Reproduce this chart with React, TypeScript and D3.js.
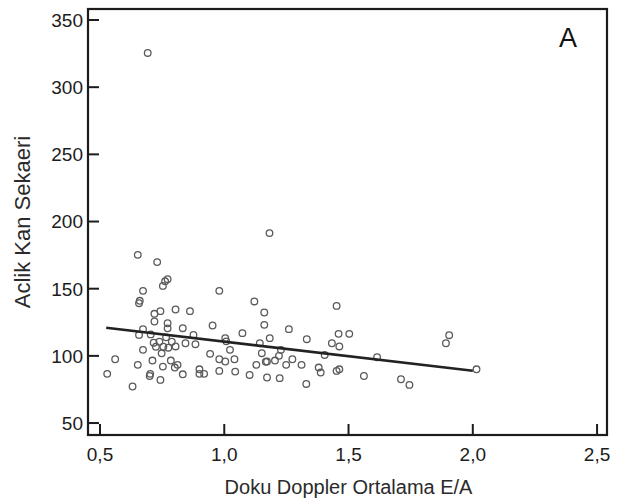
import React, { useEffect, useRef } from 'react';
import * as d3 from 'd3';

// Doku Doppler Ortalama E/A (x) vs Aclik Kan Sekaeri (y)
const eaValues = [
  0.692, 1.182, 0.652, 0.730, 0.772, 0.762, 0.753, 0.673, 0.980, 0.660,
  0.657, 1.121, 1.452, 0.804, 0.862, 0.743, 0.719, 1.161, 0.719, 0.772,
  1.161, 0.953, 0.833, 0.673, 0.772, 1.260, 1.073, 1.503, 1.460, 0.657,
  0.876, 1.905, 0.704, 1.183, 1.004, 1.332, 0.766, 1.892, 1.433, 1.143,
  0.844, 0.884, 1.463, 0.804, 0.716, 0.739, 0.725, 0.755, 0.775, 0.789,
  0.673, 1.023, 1.228, 1.151, 0.943, 1.404, 1.220, 1.615, 0.748, 0.561,
  0.711, 0.980, 1.041, 1.004, 1.274, 1.204, 0.785, 1.172, 0.652, 0.812,
  1.129, 1.249, 1.311, 0.753, 0.801, 0.900, 1.380, 1.463, 2.015, 0.980,
  1.044, 1.388, 1.452, 0.529, 0.702, 0.900, 0.919, 0.833, 1.102, 0.700,
  1.562, 1.172, 1.223, 1.711, 0.743, 1.745, 1.330, 0.631, 1.008, 1.167,
];
const glucoseValues = [
  325.5, 191.4, 175.2, 169.8, 157.1, 155.5, 152.1, 148.4, 148.4, 141.0,
  139.2, 140.5, 137.2, 134.5, 133.3, 133.3, 131.3, 132.3, 125.6, 124.3,
  123.1, 122.6, 120.6, 119.9, 120.5, 119.9, 116.9, 116.4, 116.4, 115.6,
  115.6, 115.4, 116.0, 113.2, 113.2, 112.4, 113.8, 109.4, 109.4, 109.4,
  109.4, 108.7, 107.0, 107.0, 109.8, 110.5, 106.8, 106.8, 106.1, 110.5,
  104.5, 104.5, 104.5, 102.0, 101.5, 100.7, 100.0, 99.0, 101.9, 97.5,
  96.5, 97.5, 97.5, 95.8, 97.5, 96.5, 96.5, 95.8, 93.3, 93.3,
  93.3, 93.3, 93.3, 92.0, 91.3, 90.0, 91.3, 90.0, 90.0, 88.8,
  88.3, 87.6, 88.8, 86.6, 86.6, 86.6, 86.6, 86.3, 85.8, 85.0,
  85.0, 83.9, 83.4, 82.6, 82.1, 78.4, 79.1, 77.2, 110.8, 95.6,
];

// regression line end points
const fitX = [0.525, 2.0];
const fitY = [120.9, 88.9];

const xTicks = [0.5, 1.0, 1.5, 2.0, 2.5];
const yTicks = [50, 100, 150, 200, 250, 300, 350];

const App = () => {
  const ref = useRef<HTMLDivElement>(null);

  useEffect(() => {
    d3.select(ref.current).selectAll('*').remove();

    const width = 622;
    const height = 500;
    const left = 88;
    const right = 607;
    const top = 9;
    const bottom = 435;
    const tickLen = 11;
    const font = '"Liberation Sans", Arial, sans-serif';
    const ink = '#1c1c1c';

    const x = d3.scaleLinear().domain([0.4517, 2.54]).range([left, right]);
    const y = d3.scaleLinear().domain([41.1, 358.2]).range([bottom, top]);

    const svg = d3
      .select(ref.current)
      .append('svg')
      .attr('width', width)
      .attr('height', height)
      .style('display', 'block')
      .style('background', '#fff');

    // points
    svg
      .append('g')
      .selectAll('circle')
      .data(eaValues.map((v, i) => [v, glucoseValues[i]]))
      .join('circle')
      .attr('cx', (d) => x(d[0]))
      .attr('cy', (d) => y(d[1]))
      .attr('r', 3.3)
      .attr('fill', 'none')
      .attr('stroke', '#5a5a5a')
      .attr('stroke-width', 1.3);

    // fit line
    const line = d3
      .line<number>()
      .x((d) => x(d))
      .y((d, i) => y(fitY[i]));
    svg
      .append('path')
      .attr('d', line(fitX))
      .attr('fill', 'none')
      .attr('stroke', '#222')
      .attr('stroke-width', 2.6);

    // frame
    svg
      .append('rect')
      .attr('x', left)
      .attr('y', top)
      .attr('width', right - left)
      .attr('height', bottom - top)
      .attr('fill', 'none')
      .attr('stroke', ink)
      .attr('stroke-width', 2.2);

    // x ticks
    const gx = svg.append('g');
    xTicks.forEach((t) => {
      gx.append('line')
        .attr('x1', x(t))
        .attr('x2', x(t))
        .attr('y1', bottom)
        .attr('y2', bottom - tickLen)
        .attr('stroke', ink)
        .attr('stroke-width', 2);
      gx.append('text')
        .attr('x', x(t))
        .attr('y', 461)
        .attr('text-anchor', 'middle')
        .attr('font-family', font)
        .attr('font-size', 19)
        .attr('fill', ink)
        .text(d3.format('.1f')(t).replace('.', ','));
    });

    // y ticks
    const gy = svg.append('g');
    yTicks.forEach((t) => {
      gy.append('line')
        .attr('x1', left)
        .attr('x2', left + tickLen)
        .attr('y1', y(t))
        .attr('y2', y(t))
        .attr('stroke', ink)
        .attr('stroke-width', 2);
      gy.append('text')
        .attr('x', left - 5)
        .attr('y', y(t))
        .attr('dy', '0.36em')
        .attr('text-anchor', 'end')
        .attr('font-family', font)
        .attr('font-size', 19)
        .attr('fill', ink)
        .text(t);
    });

    // axis titles
    svg
      .append('text')
      .attr('x', (x(0.5) + x(2.5)) / 2)
      .attr('y', 494)
      .attr('text-anchor', 'middle')
      .attr('font-family', font)
      .attr('font-size', 20)
      .attr('fill', '#2a2a2a')
      .text('Doku Doppler Ortalama E/A');

    svg
      .append('text')
      .attr('transform', `translate(30, ${(top + bottom) / 2}) rotate(-90)`)
      .attr('text-anchor', 'middle')
      .attr('font-family', font)
      .attr('font-size', 22)
      .attr('fill', '#2a2a2a')
      .text('Aclik Kan Sekaeri');

    // panel letter
    svg
      .append('text')
      .attr('x', 568)
      .attr('y', 47)
      .attr('text-anchor', 'middle')
      .attr('font-family', font)
      .attr('font-size', 27)
      .attr('fill', '#111')
      .text('A');
  }, []);

  return <div ref={ref} style={{ position: 'absolute', left: 0, top: 0 }} />;
};

export default App;
